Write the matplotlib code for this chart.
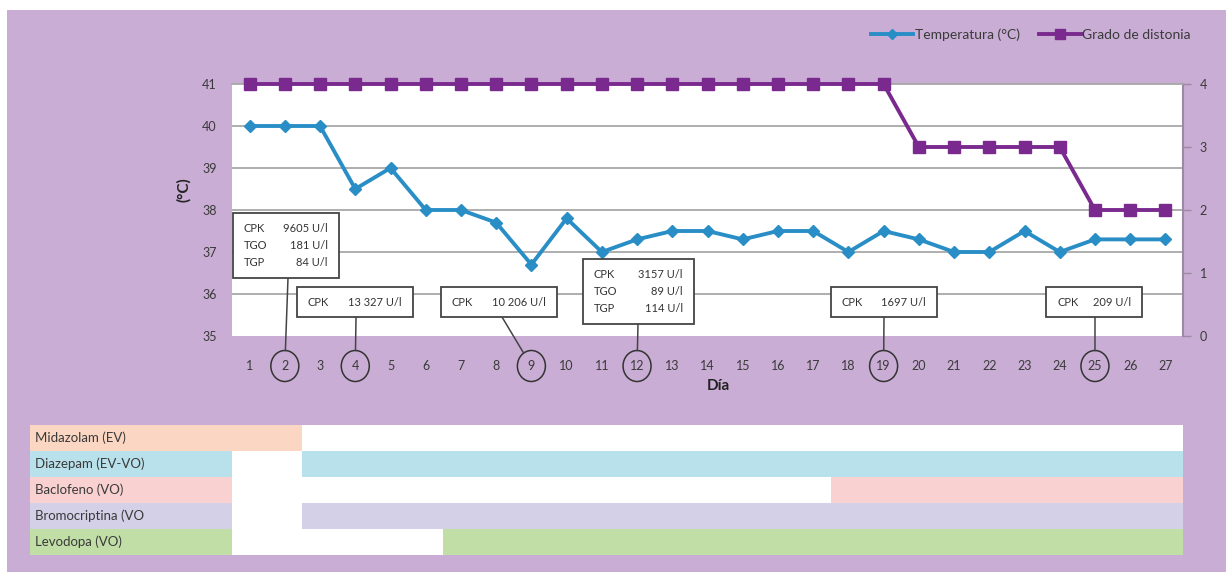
import matplotlib
matplotlib.use("Agg")
import matplotlib.pyplot as plt
from matplotlib.patches import Rectangle, Ellipse
import math

plt.rcParams['font.family'] = ['Lato', 'DejaVu Sans']

# ---------------- data ----------------
days = list(range(1, 28))
temperature = [40, 40, 40, 38.5, 39, 38, 38, 37.7, 36.7, 37.8, 37, 37.3, 37.5, 37.5,
               37.3, 37.5, 37.5, 37, 37.5, 37.3, 37, 37, 37.5, 37, 37.3, 37.3, 37.3]
dystonia = [4] * 19 + [3] * 5 + [2] * 3
temp_ticks = [35, 36, 37, 38, 39, 40, 41]
dyst_ticks = [0, 1, 2, 3, 4]

lab_days = [2, 4, 9, 12, 19, 25]
lab_names = [["CPK", "TGO", "TGP"], ["CPK"], ["CPK"], ["CPK", "TGO", "TGP"], ["CPK"], ["CPK"]]
lab_values = [["9605 U/l", "181 U/l", "84 U/l"], ["13 327 U/l"], ["10 206 U/l"],
              ["3157 U/l", "89 U/l", "114 U/l"], ["1697 U/l"], ["209 U/l"]]

meds = ["Midazolam (EV)", "Diazepam (EV-VO)", "Baclofeno (VO)", "Bromocriptina (VO", "Levodopa (VO)"]
med_start = [1, 3, 18, 3, 7]
med_end = [2, 27, 27, 27, 27]
med_colors = ["#fbd6c3", "#b9e1eb", "#f9d1d1", "#d3d0e7", "#c1dea7"]

# ---------------- layout ----------------
W, H = 1226, 572
fig = plt.figure(figsize=(W / 100, H / 100), dpi=100)
fig.patch.set_facecolor("white")
bg = "#c9add4"
fig.patches.append(Rectangle((7 / W, 0), 1, 1 - 10 / H, transform=fig.transFigure,
                             facecolor=bg, edgecolor="none", zorder=-10))

pl, pr, pt, pb = 232, 1183, 84, 336
ax = fig.add_axes([pl / W, 1 - pb / H, (pr - pl) / W, (pb - pt) / H])
ax.set_facecolor("white")
ax.set_xlim(0.5, 27.5)
ax.set_ylim(35, 41)
ax.set_yticks(temp_ticks)
ax.set_xticks(days)
ax.set_xticklabels([str(d) for d in days])
ax.tick_params(axis="both", length=0, labelsize=9, labelcolor="#3a3a3a")
ax.tick_params(axis="y", pad=11)
ax.tick_params(axis="x", pad=17)
for y in temp_ticks[1:-1]:
    ax.axhline(y, color="#a8a8a8", lw=1.3, zorder=1)
for s in ["left", "bottom"]:
    ax.spines[s].set_visible(False)
ax.spines["top"].set_color("#a8a8a8")
ax.spines["top"].set_linewidth(1.3)
ax.spines["right"].set_color("#9c8aa5")
ax.spines["right"].set_linewidth(1.5)

l1, = ax.plot(days, temperature, color="#2a8ec6", lw=2.8, marker="D", ms=6,
              markerfacecolor="#2a8ec6", markeredgecolor="#2a8ec6", zorder=3,
              label="Temperatura (°C)")

ax2 = ax.twinx()
ax2.set_ylim(0, 4)
ax2.set_yticks(dyst_ticks)
ax2.tick_params(axis="y", length=6, width=1, color="#9c8aa5", labelsize=9,
                labelcolor="#3a3a3a", pad=6)
for s in ["left", "bottom", "top", "right"]:
    ax2.spines[s].set_visible(False)
l2, = ax2.plot(days, dystonia, color="#7a2a8e", lw=2.8, marker="s", ms=9,
               markerfacecolor="#7a2a8e", markeredgecolor="#7a2a8e", zorder=4,
               clip_on=False, label="Grado de distonia")

ax.set_ylabel("(°C)", fontsize=11, fontweight="bold", color="#222222")
ax.yaxis.set_label_coords(-0.043, 0.58)
fig.text(718 / W, 1 - 386 / H, "Día", ha="center", va="center", fontsize=11,
         fontweight="bold", color="#222222")

# pixel <-> data helpers (layout)
px_day = (pr - pl) / 27.0
px_deg = (pb - pt) / 6.0
def dx(px):
    return 0.5 + (px - pl) / px_day
def dy(py):
    return 41 - (py - pt) / px_deg

# circles around tick labels
circ_cy, circ_rx, circ_ry = 366, 14, 15.5
for d in lab_days:
    e = Ellipse((d, dy(circ_cy)), width=2 * circ_rx / px_day, height=2 * circ_ry / px_deg,
                facecolor="none", edgecolor="#333333", lw=1.1, clip_on=False, zorder=5)
    ax.add_patch(e)

# annotation boxes: (centre x px, centre y px, width px, height px, line start x px)
boxes = [(286, 245.5, 106, 65, 288), (355, 302, 116, 30, 356), (499, 302, 116, 30, 502),
         (638.5, 291.5, 111, 65, 638), (884, 302, 106, 30, 884), (1094, 302, 96, 30, 1095)]
for d, names, vals, (cx, cy, bw, bh, lx) in zip(lab_days, lab_names, lab_values, boxes):
    ax.add_patch(Rectangle((dx(cx - bw / 2), dy(cy + bh / 2)), bw / px_day, bh / px_deg,
                           facecolor="white", edgecolor="#444444", lw=1.3,
                           clip_on=False, zorder=6))
    n = len(names)
    for k, (nm, vl) in enumerate(zip(names, vals)):
        ty = cy + (k - (n - 1) / 2) * 17
        ax.text(dx(cx - bw / 2 + 11), dy(ty), nm, ha="left", va="center", fontsize=8,
                color="#333333", zorder=7)
        ax.text(dx(cx + bw / 2 - 11), dy(ty), vl, ha="right", va="center", fontsize=8,
                color="#333333", zorder=7)
    # connector from box bottom to the circle
    x0, y0 = lx, cy + bh / 2
    ccx = pl + (d - 0.5) * px_day
    vx, vy = ccx - x0, circ_cy - y0
    L = math.hypot(vx, vy)
    ex, ey = ccx - vx / L * circ_ry, circ_cy - vy / L * circ_ry
    ax.plot([dx(x0), dx(ex)], [dy(y0), dy(ey)], color="#444444", lw=1.1,
            clip_on=False, zorder=5)

fig.legend(handles=[l1, l2], loc="upper right", bbox_to_anchor=(1203 / W, 1 - 16 / H),
           ncol=2, frameon=False, fontsize=10, labelcolor="#3a3a3a",
           handlelength=3.0, columnspacing=1.4, handletextpad=0.1, markerscale=0.8)

# ---------------- medication table ----------------
tl, tr, tt, tb = 30, 1183, 425, 555
axt = fig.add_axes([tl / W, 1 - tb / H, (tr - tl) / W, (tb - tt) / H])
left_lim = 0.5 - (pl - tl) / px_day
axt.set_xlim(left_lim, 27.5)
axt.set_ylim(len(meds) - 0.5, -0.5)
axt.axis("off")
axt.add_patch(Rectangle((0, 0), 1, 1, transform=axt.transAxes, facecolor="white",
                        edgecolor="none", zorder=0))
for i, (m, s, e, c) in enumerate(zip(meds, med_start, med_end, med_colors)):
    axt.barh(i, 0.5 - left_lim, left=left_lim, height=1.0, color=c, zorder=1)
    axt.barh(i, (e + 0.5) - (s - 0.5), left=s - 0.5, height=1.0, color=c, zorder=1)
    axt.text(left_lim + 5 / px_day, i, m, ha="left", va="center", fontsize=9.5,
             color="#3a3a3a", zorder=2)

fig.savefig("out.png", dpi=100, facecolor=fig.get_facecolor())
